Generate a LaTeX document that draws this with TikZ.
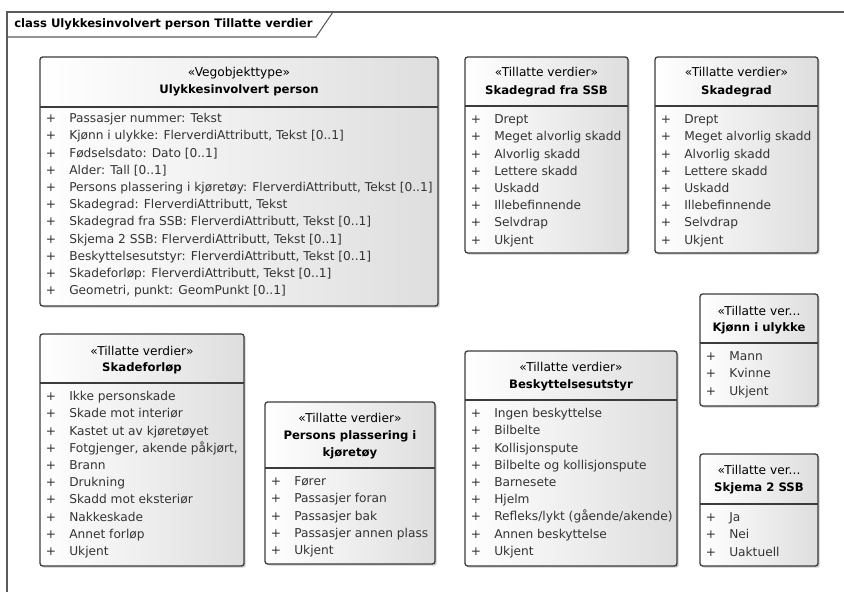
\documentclass[tikz,border=0pt]{standalone}
\usepackage{fontspec}
\setmainfont{DejaVu Sans}
\usetikzlibrary{shadows}
\definecolor{framec}{HTML}{5A5A5A}
\definecolor{boxc}{HTML}{3C3C3C}
\definecolor{itemc}{HTML}{333333}
\tikzset{
  frameline/.style={draw=framec, line width=0.8pt},
  boxshade/.style={draw=boxc, line width=1.0pt, rounded corners=2pt,
    left color=white, right color=black!13,
    drop shadow={shadow xshift=1.3pt, shadow yshift=-1.3pt, opacity=0.35, fill=black!60}},
  sepline/.style={draw=boxc, line width=1.0pt},
  basetext/.style={inner sep=0pt, font=\fontsize{9.15}{11}\selectfont, text height=0.75em, text depth=0.2em},
  boldtext/.style={basetext, font=\fontsize{8.75}{11}\selectfont\bfseries, text=black},
  titletext/.style={boldtext},
  stereo/.style={basetext, text=black},
  cname/.style={boldtext},
  plus/.style={basetext, text=itemc},
  item/.style={basetext, text=itemc, anchor=west},
}
\newcommand\classbox[6]{%
  \path[boxshade] (#2,#3) rectangle (#4,#5);
  \draw[sepline] (#2,#6) -- (#4,#6);
}
\newcommand\classitems[4]{%
  \foreach \t [count=\i from 0] in {#4} {
    \node[plus] (#1-p\i) at (#2+11,#3+\i*17.2) {+};
    \node[item] (#1-t\i) at (#2+29,#3+\i*17.2) {\t};
  }
}
\begin{document}
\begin{tikzpicture}[x=0.75pt,y=-0.75pt]
\useasboundingbox (0,0) rectangle (844,592);
% frame
\draw[frameline] (7,592) -- (7,12) -- (844,12);
\draw[frameline] (7,37) -- (316,37) -- (333,12);
\node[titletext, anchor=west] (title) at (14,24) {class Ulykkesinvolvert person Tillatte verdier};

% main
\classbox{main}{40}{57}{438}{306}{107}
\node[stereo] (main-st) at (239,73) {«Vegobjekttype»};
\node[cname] (main-nm) at (239,90) {Ulykkesinvolvert person};
\classitems{main}{40}{119}{{Passasjer nummer: Tekst},{Kjønn i ulykke: FlerverdiAttributt, Tekst [0..1]},{Fødselsdato: Dato [0..1]},{Alder: Tall [0..1]},{Persons plassering i kjøretøy: FlerverdiAttributt, Tekst [0..1]},{Skadegrad: FlerverdiAttributt, Tekst},{Skadegrad fra SSB: FlerverdiAttributt, Tekst [0..1]},{Skjema 2 SSB: FlerverdiAttributt, Tekst [0..1]},{Beskyttelsesutstyr: FlerverdiAttributt, Tekst [0..1]},{Skadeforløp: FlerverdiAttributt, Tekst [0..1]},{Geometri, punkt: GeomPunkt [0..1]}}

% Skadegrad fra SSB
\classbox{ssb}{465}{57}{628}{253}{106}
\node[stereo] (ssb-st) at (546.5,73) {«Tillatte verdier»};
\node[cname] (ssb-nm) at (546.5,91) {Skadegrad fra SSB};
\classitems{ssb}{465}{120}{Drept,Meget alvorlig skadd,Alvorlig skadd,Lettere skadd,Uskadd,Illebefinnende,Selvdrap,Ukjent}

% Skadegrad
\classbox{sg}{655}{57}{818}{253}{106}
\node[stereo] (sg-st) at (736.5,73) {«Tillatte verdier»};
\node[cname] (sg-nm) at (736.5,91) {Skadegrad};
\classitems{sg}{655}{120}{Drept,Meget alvorlig skadd,Alvorlig skadd,Lettere skadd,Uskadd,Illebefinnende,Selvdrap,Ukjent}

% Skadeforløp
\classbox{sf}{40}{334}{244}{566}{383}
\node[stereo] (sf-st) at (142,352) {«Tillatte verdier»};
\node[cname] (sf-nm) at (142,368) {Skadeforløp};
\classitems{sf}{40}{397}{Ikke personskade,Skade mot interiør,Kastet ut av kjøretøyet,{Fotgjenger, akende påkjørt,},Brann,Drukning,Skadd mot eksteriør,Nakkeskade,Annet forløp,Ukjent}

% Persons plassering i kjøretøy
\classbox{pp}{265}{402}{435}{564}{468}
\node[stereo] (pp-st) at (350,419) {«Tillatte verdier»};
\node[cname] (pp-nm1) at (350,436) {Persons plassering i};
\node[cname] (pp-nm2) at (350,453) {kjøretøy};
\classitems{pp}{265}{482}{Fører,Passasjer foran,Passasjer bak,Passasjer annen plass,Ukjent}

% Beskyttelsesutstyr
\classbox{bu}{465}{351}{677}{566}{400}
\node[stereo] (bu-st) at (571,368) {«Tillatte verdier»};
\node[cname] (bu-nm) at (571,385) {Beskyttelsesutstyr};
\classitems{bu}{465}{414}{Ingen beskyttelse,Bilbelte,Kollisjonspute,Bilbelte og kollisjonspute,Barnesete,Hjelm,Refleks/lykt (gående/akende),Annen beskyttelse,Ukjent}

% Kjønn i ulykke
\classbox{kj}{700}{294}{818}{406}{343}
\node[stereo] (kj-st) at (759,312) {«Tillatte ver...};
\node[cname] (kj-nm) at (759,328) {Kjønn i ulykke};
\classitems{kj}{700}{357}{Mann,Kvinne,Ukjent}

% Skjema 2 SSB
\classbox{s2}{700}{454}{818}{566}{504}
\node[stereo] (s2-st) at (759,471) {«Tillatte ver...};
\node[cname] (s2-nm) at (759,488) {Skjema 2 SSB};
\classitems{s2}{700}{518}{Ja,Nei,Uaktuell}
\end{tikzpicture}
\end{document}
